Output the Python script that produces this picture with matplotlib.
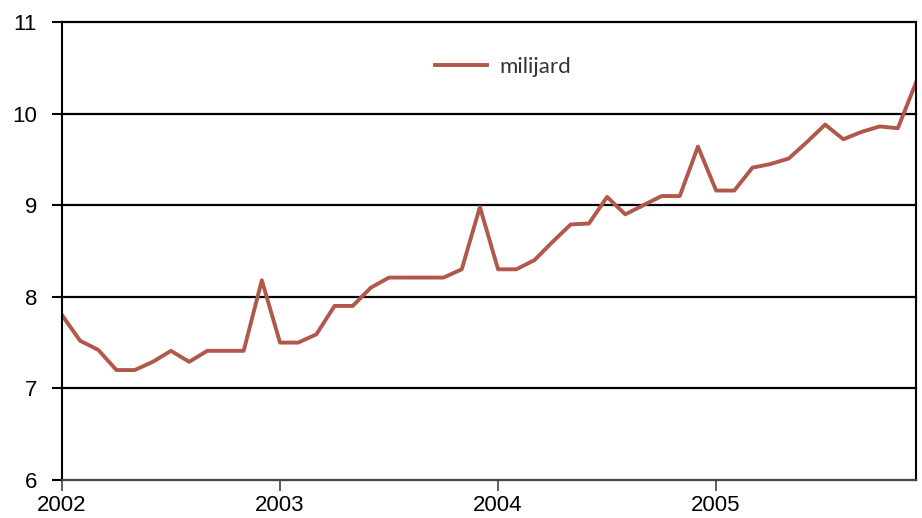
import matplotlib
matplotlib.use("Agg")
import matplotlib.pyplot as plt
import numpy as np

# monthly values, Jan 2002 .. Dec 2005
months = np.arange(48)
values = [
    7.80, 7.52, 7.42, 7.20, 7.20, 7.29, 7.41, 7.29, 7.41, 7.41, 7.41, 8.18,
    7.50, 7.50, 7.59, 7.90, 7.90, 8.10, 8.21, 8.21, 8.21, 8.21, 8.30, 8.98,
    8.30, 8.30, 8.40, 8.60, 8.79, 8.80, 9.09, 8.90, 9.00, 9.10, 9.10, 9.64,
    9.16, 9.16, 9.41, 9.45, 9.51, 9.69, 9.88, 9.72, 9.80, 9.86, 9.84, 10.34,
]
year_ticks = [0, 12, 24, 36]
year_labels = ["2002", "2003", "2004", "2005"]
y_ticks = [6, 7, 8, 9, 10, 11]

fig = plt.figure(figsize=(9.22, 5.18), dpi=100)
ax = fig.add_axes([0.0672, 0.0734, 0.9263, 0.8841])

ax.plot(months, values, color="#B0584A", linewidth=2.8, label="milijard")

ax.set_xlim(0, 47)
ax.set_ylim(6, 11)
ax.set_xticks(year_ticks)
ax.set_xticklabels(year_labels)
ax.set_yticks(y_ticks)

for lab in ax.get_xticklabels() + ax.get_yticklabels():
    lab.set_fontfamily("Liberation Sans")
    lab.set_fontsize(16)

ax.tick_params(axis="y", direction="out", length=7, width=1.5, pad=11, colors="black")
ax.tick_params(axis="x", direction="out", length=8, width=1.2, pad=3, colors="black",
               color="#444444")

ax.grid(axis="y", color="black", linewidth=1.6)
ax.set_axisbelow(True)
for gl in ax.get_ygridlines():
    gl.set_clip_on(False)

ax.spines["top"].set_visible(False)
ax.spines["left"].set_linewidth(1.5)
ax.spines["right"].set_linewidth(1.5)
ax.spines["bottom"].set_color("#555555")
ax.spines["bottom"].set_linewidth(1.2)
ax.spines["bottom"].set_zorder(3)

leg = ax.legend(loc="center", bbox_to_anchor=(0.517, 0.902), frameon=False,
                handlelength=2.3, handletextpad=0.6,
                prop={"family": "Lato", "size": 16})
for t in leg.get_texts():
    t.set_color("#333333")

fig.savefig("out.png", dpi=100)
